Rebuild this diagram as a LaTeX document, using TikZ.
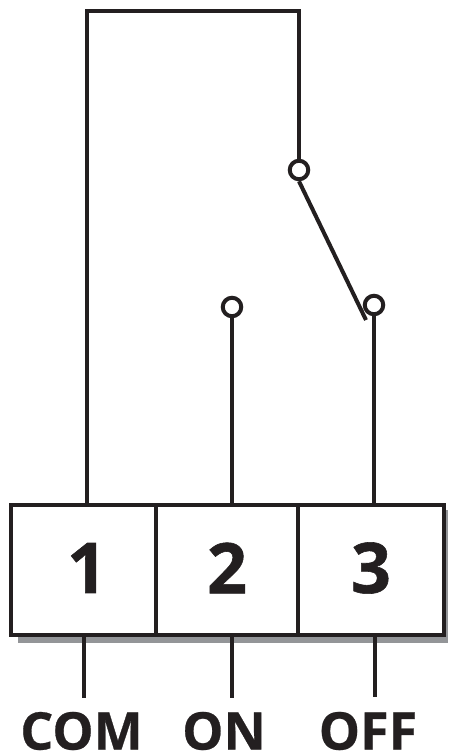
\documentclass[tikz,border=0pt]{standalone}
\usepackage{fontspec}
\setmainfont{Open Sans}
\definecolor{ink}{HTML}{231F20}
\definecolor{shadowgray}{HTML}{939598}
\tikzset{
  wire/.style={draw=ink,line width=4pt,line cap=butt},
  cell/.style={draw=ink,fill=white,line width=3.6pt,inner sep=0pt,minimum height=130pt},
  contact/.style={circle,draw=ink,fill=white,line width=4pt,inner sep=0pt,minimum size=18.5pt},
  digit/.style={text=ink,inner sep=0pt,font=\fontsize{70}{70}\selectfont\bfseries\addfontfeature{FakeBold=0.8}},
  lbl/.style={text=ink,inner sep=0pt,font=\fontsize{52}{52}\selectfont\bfseries\addfontfeature{FakeBold=0.5}}
}
\begin{document}
\begin{tikzpicture}[x=1pt,y=-1pt]
\useasboundingbox (0,0) rectangle (448,753);
\fill[white] (0,0) rectangle (448,753);
\fill[shadowgray] (18,510) rectangle (448,643);
% terminal block
\node[cell,minimum width=145pt] (c1) at (83.5,570) {};
\node[cell,minimum width=142pt] (c2) at (227,570) {};
\node[cell,minimum width=146pt] (c3) at (371,570) {};
\node[digit] (d1) at (87,568) {1};
\node[digit] (d2) at (227,568) {2};
\node[digit] (d3) at (371,568) {3};
% contacts
\node[contact] (common) at (299,170) {};
\node[contact] (on) at (232,307) {};
\node[contact] (off) at (374,305) {};
% wires
\coordinate (w1) at (87,505);
\coordinate (w2) at (87,11);
\coordinate (w3) at (299,11);
\coordinate (w5) at (232,505);
\coordinate (w6) at (374,505);
\coordinate (tip) at (366,320);
\draw[wire,line join=miter] (w1) -- (w2) -- (w3) -- (common.north);
\draw[wire] (on.south) -- (w5);
\draw[wire] (off.south) -- (w6);
\draw[wire] (common.south) -- (tip);
% leads
\coordinate (l1a) at (84,636); \coordinate (l1b) at (84,697.5);
\coordinate (l2a) at (232,636); \coordinate (l2b) at (232,697.5);
\coordinate (l3a) at (375,636); \coordinate (l3b) at (375,697);
\draw[wire] (l1a) -- (l1b);
\draw[wire] (l2a) -- (l2b);
\draw[wire] (l3a) -- (l3b);
% labels
\node[lbl] (com) at (81.5,731) {COM};
\node[lbl] (onl) at (224,731) {ON};
\node[lbl] (offl) at (368,731) {OFF};
\end{tikzpicture}
\end{document}
